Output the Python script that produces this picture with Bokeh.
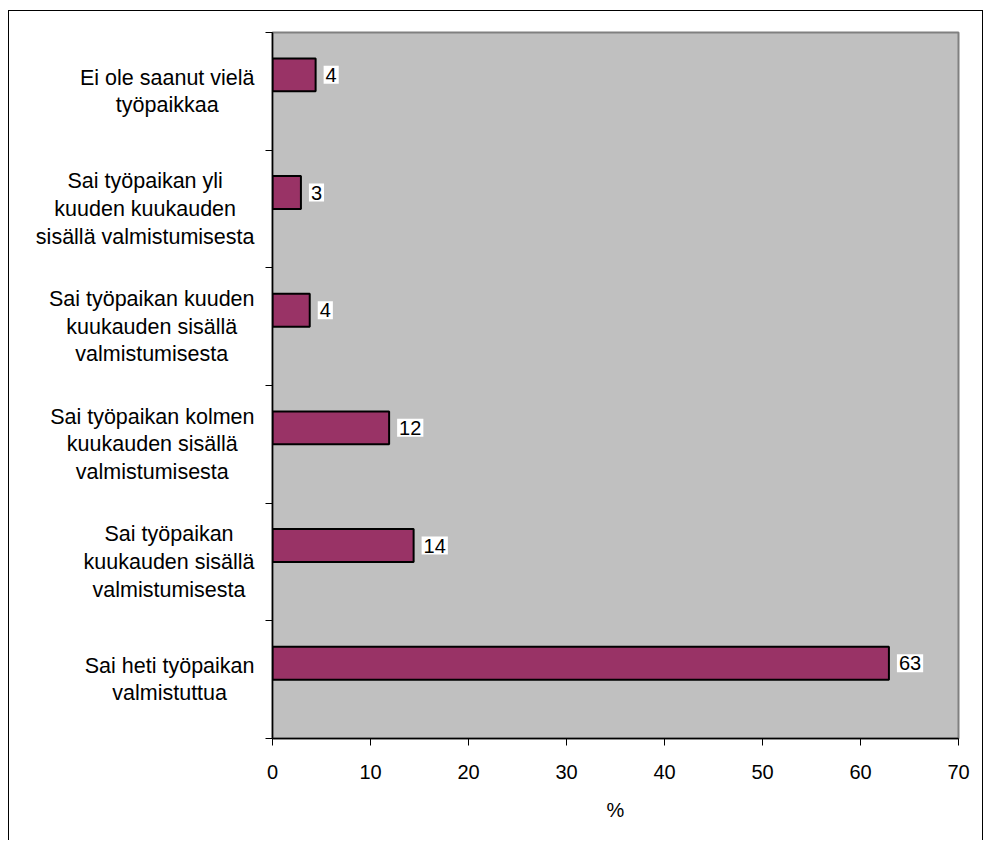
from bokeh.plotting import figure
from bokeh.layouts import row
from bokeh.models import (Range1d, LinearAxis, FixedTicker,
                          ColumnDataSource, CustomJSTickFormatter)
from bokeh.core.properties import value
from bokeh.embed import file_html
from bokeh.resources import INLINE

# Data (top-to-bottom as in the chart)
categories = [
    "Ei ole saanut vielä\ntyöpaikkaa",
    "Sai työpaikan yli\nkuuden kuukauden\nsisällä valmistumisesta",
    "Sai työpaikan kuuden\nkuukauden sisällä\nvalmistumisesta",
    "Sai työpaikan kolmen\nkuukauden sisällä\nvalmistumisesta",
    "Sai työpaikan\nkuukauden sisällä\nvalmistumisesta",
    "Sai heti työpaikan\nvalmistuttua",
]
values = [4.4, 2.9, 3.8, 11.9, 14.4, 62.9]
x_ticks = [0, 10, 20, 30, 40, 50, 60, 70]
x_label = "%"

FONT = "Liberation Sans"
n = len(categories)
labels = [f"{v:.0f}" for v in values]
# slot index from the bottom; bar sits in the upper half of its slot
slot = [n - 1 - i for i in range(n)]
centre = [s + 0.5 for s in slot]
bar_h = 0.28
ypos = [c + bar_h / 2 for c in centre]

source = ColumnDataSource(dict(y=ypos, centre=centre, cat=categories,
                               val=values, lab=labels))
y_range = Range1d(0, n)

TOP, FH, BOT = 21, 706, 102

# ---- category labels panel ----
lab_fig = figure(
    y_range=y_range, x_range=Range1d(0, 1),
    frame_width=253, frame_height=FH,
    min_border_left=0, min_border_right=0, min_border_top=TOP, min_border_bottom=BOT,
    output_backend="svg", toolbar_location=None,
    x_axis_location=None, y_axis_location=None,
)
lab_fig.outline_line_color = None
lab_fig.background_fill_color = "white"
lab_fig.border_fill_color = "white"
lab_fig.xgrid.visible = False
lab_fig.ygrid.visible = False
lab_fig.text(x=1, y="centre", text="cat", source=source, x_offset=-8,
             anchor=value("center_right"), text_align=value("center"),
             text_baseline=value("middle"),
             text_font=value(FONT), text_font_size=value("21.5px"),
             text_line_height=1.15, text_color="black")

# ---- main chart ----
p = figure(
    y_range=y_range,
    x_range=Range1d(x_ticks[0], x_ticks[-1]),
    frame_width=686, frame_height=FH,
    min_border_left=10, min_border_right=24, min_border_top=TOP, min_border_bottom=BOT,
    output_backend="svg", toolbar_location=None, y_axis_location=None,
)
p.background_fill_color = "#C0C0C0"
p.border_fill_color = "white"
p.outline_line_color = "#808080"
p.outline_line_width = 2
p.xgrid.visible = False
p.ygrid.visible = False

p.hbar(y="y", right="val", left=0, height=bar_h, source=source,
       fill_color="#993366", line_color="black", line_width=2)

p.text(x="val", y="y", text="lab", source=source, x_offset=8,
       anchor=value("center_left"), text_align=value("left"),
       text_baseline=value("middle"),
       text_font=value(FONT), text_font_size=value("20px"), text_color="black",
       background_fill_color="white", padding=2)

# x axis
xa = p.xaxis[0]
xa.ticker = FixedTicker(ticks=x_ticks)
xa.major_tick_in = 0
xa.major_tick_out = 7
xa.minor_tick_line_color = None
xa.axis_line_color = "black"
xa.axis_line_width = 1.5
xa.major_tick_line_color = "black"
xa.major_label_text_font = FONT
xa.major_label_text_font_size = "20px"
xa.major_label_text_color = "black"
xa.major_label_standoff = 19
xa.axis_label = x_label
xa.axis_label_text_font = FONT
xa.axis_label_text_font_size = "20px"
xa.axis_label_text_font_style = "normal"
xa.axis_label_text_color = "black"
xa.axis_label_standoff = 17

# y axis: tick marks at category boundaries
edge_axis = LinearAxis(
    ticker=FixedTicker(ticks=list(range(n + 1))),
    formatter=CustomJSTickFormatter(code="return ''"),
    major_label_standoff=0, major_tick_in=0, major_tick_out=7,
    minor_tick_line_color=None, axis_line_color="black", axis_line_width=1.5,
    major_tick_line_color="black",
)
p.add_layout(edge_axis, "left")

layout = row(lab_fig, p, spacing=0)
layout.styles = {"border": "1px solid #000000", "border-bottom": "none",
                 "margin-left": "8px", "margin-top": "10px",
                 "width": "975px", "height": "830px", "box-sizing": "border-box",
                 "overflow": "hidden", "background": "white"}

open("out.html", "w").write(file_html(layout, INLINE))
